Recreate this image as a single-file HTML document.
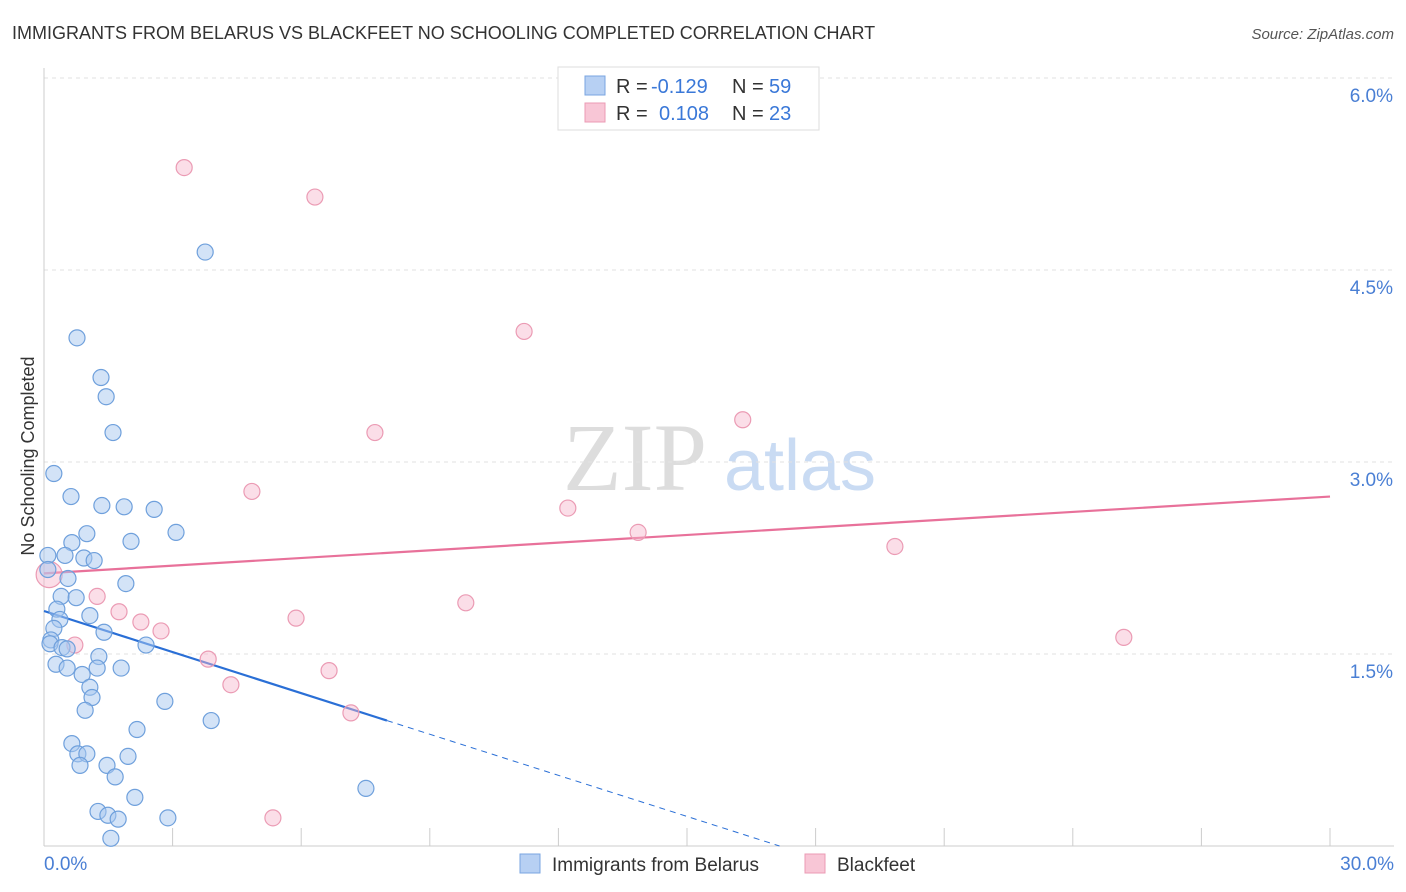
<!DOCTYPE html>
<html><head><meta charset="utf-8">
<style>
body{margin:0;background:#fff;font-family:"Liberation Sans",sans-serif;}
svg{display:block}
</style></head>
<body>
<svg id="chart" width="1406" height="892">
<text x="12" y="39" font-size="18" fill="#333">IMMIGRANTS FROM BELARUS VS BLACKFEET NO SCHOOLING COMPLETED CORRELATION CHART</text>
<text x="1394" y="39" font-size="15" fill="#555" text-anchor="end" font-style="italic">Source: ZipAtlas.com</text>
<text x="34" y="456" font-size="18" fill="#333" transform="rotate(-90 34 456)" text-anchor="middle">No Schooling Completed</text>
<g>
<text x="635" y="490" font-size="96" fill="#ddd" font-family="Liberation Serif,serif" text-anchor="middle">ZIP</text>
<text x="800" y="490" font-size="72" fill="#c9dbf3" text-anchor="middle">atlas</text>
</g>
<g id="grid"></g>
<g id="axes"></g>
<g id="trend"></g>
<g id="points"></g>
<g>
<rect x="558" y="67" width="261" height="63" fill="#fff" stroke="#ddd"/>
<rect x="585" y="76" width="20" height="19" fill="#b7d0f3" stroke="#7aa5e0"/>
<rect x="585" y="103" width="20" height="19" fill="#f8c6d6" stroke="#eb9bb4"/>
<text x="616" y="93" font-size="20" fill="#333">R =</text>
<text x="651" y="93" font-size="20" fill="#3a78d8">-0.129</text>
<text x="732" y="93" font-size="20" fill="#333">N =</text>
<text x="769" y="93" font-size="20" fill="#3a78d8">59</text>
<text x="616" y="120" font-size="20" fill="#333">R =</text>
<text x="659" y="120" font-size="20" fill="#3a78d8">0.108</text>
<text x="732" y="120" font-size="20" fill="#333">N =</text>
<text x="769" y="120" font-size="20" fill="#3a78d8">23</text>
</g>
<g>
<rect x="520" y="854" width="20" height="19" fill="#b7d0f3" stroke="#7aa5e0"/>
<text x="552" y="871" font-size="19" fill="#333">Immigrants from Belarus</text>
<rect x="805" y="854" width="20" height="19" fill="#f8c6d6" stroke="#eb9bb4"/>
<text x="837" y="871" font-size="19" fill="#333">Blackfeet</text>
</g>
</svg>
<script>
const yTicks=[1.5,3.0,4.5,6.0];
const yTickLabels=["1.5%","3.0%","4.5%","6.0%"];
const xTickCount=10;
const blueX=[3.76,0.77,1.33,1.45,1.61,0.23,0.63,1.35,1.87,2.57,3.08,1.00,0.65,2.03,0.09,0.49,0.93,1.17,0.09,0.56,1.91,0.40,0.75,0.30,1.07,0.37,0.23,1.40,0.16,0.14,0.42,0.54,2.38,1.28,0.28,0.54,1.24,1.80,0.89,1.07,1.12,2.82,0.96,3.90,2.17,0.65,0.79,1.00,1.96,0.84,1.47,1.66,2.12,7.51,1.26,1.49,1.73,2.89,1.56];
const blueY=[4.64,3.97,3.66,3.51,3.23,2.91,2.73,2.66,2.65,2.63,2.45,2.44,2.37,2.38,2.27,2.27,2.25,2.23,2.16,2.09,2.05,1.95,1.94,1.85,1.80,1.77,1.70,1.67,1.61,1.58,1.55,1.54,1.57,1.48,1.42,1.39,1.39,1.39,1.34,1.24,1.16,1.13,1.06,0.98,0.91,0.80,0.72,0.72,0.70,0.63,0.63,0.54,0.38,0.45,0.27,0.24,0.21,0.22,0.06];
const pinkX=[3.27,6.32,11.20,16.30,7.72,4.85,12.22,13.86,19.85,0.12,1.24,9.84,1.75,2.26,5.88,2.73,0.72,3.83,4.36,6.65,7.16,25.19,5.34];
const pinkY=[5.30,5.07,4.02,3.33,3.23,2.77,2.64,2.45,2.34,2.12,1.95,1.90,1.83,1.75,1.78,1.68,1.57,1.46,1.26,1.37,1.04,1.63,0.22];
const blueTrend=[1.836,-0.107]; // intercept, slope
const pinkTrend=[2.13,0.0200];
const X0=44,X1=1330,Y0=846,PX=(X1-X0)/30,PY=128;
const sx=v=>X0+v*PX, sy=v=>Y0-v*PY;
const NS="http://www.w3.org/2000/svg";
function mk(tag,attrs,parent){const e=document.createElementNS(NS,tag);for(const k in attrs)e.setAttribute(k,attrs[k]);document.getElementById(parent).appendChild(e);return e;}
yTicks.forEach((t,i)=>{
 const g=mk('line',{x1:X0,x2:1394,y1:sy(t),y2:sy(t),stroke:'#e2e2e2','stroke-dasharray':'4,4'},'grid');
 
 
 const l=mk('text',{x:1393,y:sy(t)+24,'font-size':19,fill:'#4a7fd4','text-anchor':'end'},'axes');
 l.textContent=yTickLabels[i];
 
 
});
const ax=mk('line',{x1:X0,x2:1394,y1:Y0,y2:Y0,stroke:'#ccc'},'axes');


const ay=mk('line',{x1:X0,x2:X0,y1:68,y2:Y0,stroke:'#ccc'},'axes');


for(let i=0;i<=xTickCount;i++){
 const t=mk('line',{x1:sx(i*3),x2:sx(i*3),y1:828,y2:Y0,stroke:'#ccc'},'axes');
 
 
}
const xl0=mk('text',{x:44,y:870,'font-size':19,fill:'#4a7fd4'},'axes');xl0.textContent='0.0%';


const xl1=mk('text',{x:1394,y:870,'font-size':19,fill:'#4a7fd4','text-anchor':'end'},'axes');xl1.textContent='30.0%';


pinkX.forEach((x,i)=>{
 const r=(i===9)?13:8;
 const c=mk('circle',{cx:sx(x),cy:sy(pinkY[i]),r:r,fill:'rgba(246,182,203,0.45)',stroke:'#eb9bb4','stroke-width':1.2},'points');
 
 
});
blueX.forEach((x,i)=>{
 const c=mk('circle',{cx:sx(x),cy:sy(blueY[i]),r:8,fill:'rgba(167,199,240,0.5)',stroke:'#6fa0dc','stroke-width':1.2},'points');
 
 
});
const bEnd=8.0,bDash=-blueTrend[0]/blueTrend[1];
const bl=mk('line',{x1:sx(0),y1:sy(blueTrend[0]),x2:sx(bEnd),y2:sy(blueTrend[0]+blueTrend[1]*bEnd),stroke:'#2a6fd6','stroke-width':2.2},'trend');


const bd=mk('line',{x1:sx(bEnd),y1:sy(blueTrend[0]+blueTrend[1]*bEnd),x2:sx(bDash),y2:sy(blueTrend[0]+blueTrend[1]*bDash),stroke:'#2a6fd6','stroke-width':1,'stroke-dasharray':'6,5'},'trend');


const pl=mk('line',{x1:sx(0),y1:sy(pinkTrend[0]),x2:sx(30),y2:sy(pinkTrend[0]+pinkTrend[1]*30),stroke:'#e8719a','stroke-width':2.2},'trend');


</script>
</body></html>
